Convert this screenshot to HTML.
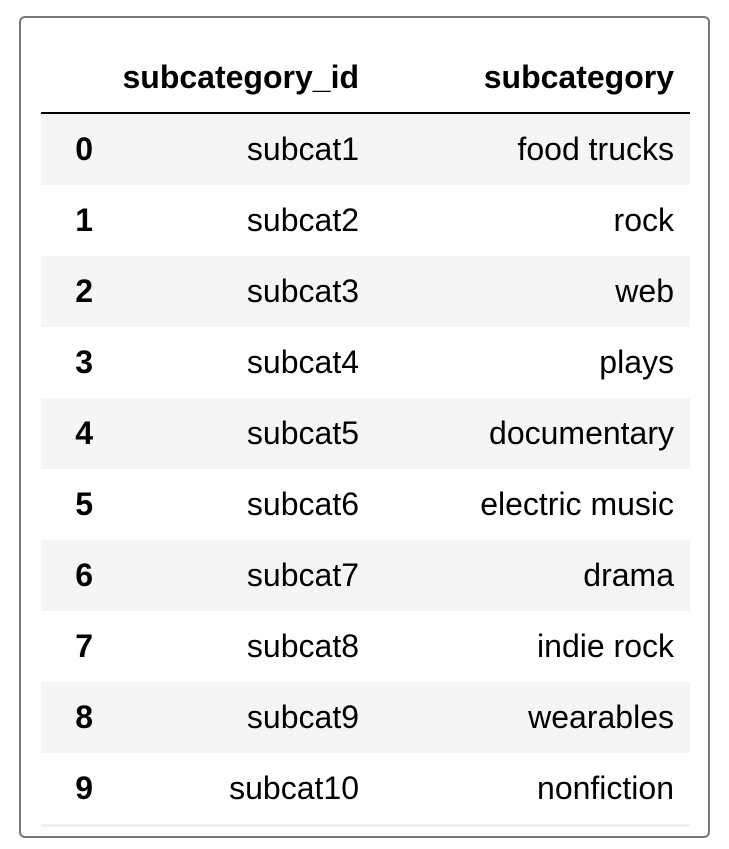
<!DOCTYPE html>
<html><head><style>
body{margin:0;width:729px;height:849px;background:#fff;font-family:"Liberation Sans",Arial,sans-serif;color:#000;position:relative;overflow:hidden}
.box{position:absolute;left:19px;top:16px;width:687px;height:818px;border:2px solid #777;border-radius:6px}
.row{position:absolute;left:41px;width:649px;height:71px;line-height:71px;font-size:32px}
.g{background:#f5f5f5}
.i{position:absolute;left:0;width:52px;text-align:right;font-weight:bold}
.a{position:absolute;right:331px;text-align:right;white-space:nowrap}
.b{position:absolute;right:16px;text-align:right;white-space:nowrap}
.hdr{position:absolute;left:41px;top:42px;width:649px;height:70px;border-bottom:2px solid #000;font-size:32px;font-weight:bold;line-height:70px}
</style></head><body>
<div class="box"></div>
<div class="hdr"><span class="a">subcategory_id</span><span class="b">subcategory</span></div>
<div class="row g" style="top:114px"><span class="i">0</span><span class="a">subcat1</span><span class="b">food trucks</span></div>
<div class="row" style="top:185px"><span class="i">1</span><span class="a">subcat2</span><span class="b">rock</span></div>
<div class="row g" style="top:256px"><span class="i">2</span><span class="a">subcat3</span><span class="b">web</span></div>
<div class="row" style="top:327px"><span class="i">3</span><span class="a">subcat4</span><span class="b">plays</span></div>
<div class="row g" style="top:398px"><span class="i">4</span><span class="a">subcat5</span><span class="b">documentary</span></div>
<div class="row" style="top:469px"><span class="i">5</span><span class="a">subcat6</span><span class="b">electric music</span></div>
<div class="row g" style="top:540px"><span class="i">6</span><span class="a">subcat7</span><span class="b">drama</span></div>
<div class="row" style="top:611px"><span class="i">7</span><span class="a">subcat8</span><span class="b">indie rock</span></div>
<div class="row g" style="top:682px"><span class="i">8</span><span class="a">subcat9</span><span class="b">wearables</span></div>
<div class="row" style="top:753px;border-bottom:3px solid #f0f0f0;height:71px"><span class="i">9</span><span class="a">subcat10</span><span class="b">nonfiction</span></div>
</body></html>
